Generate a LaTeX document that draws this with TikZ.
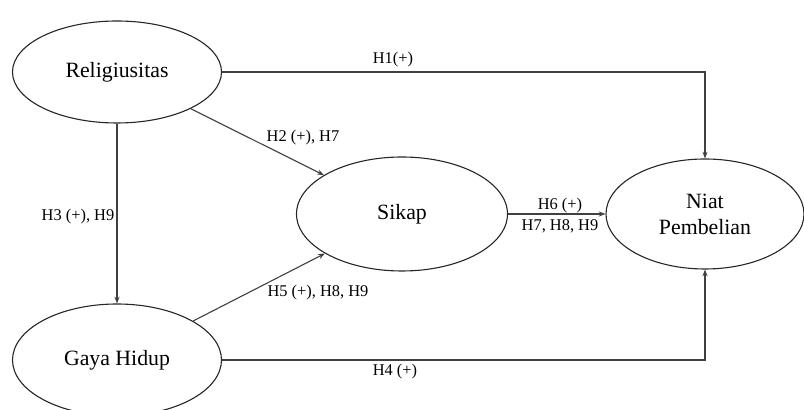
\documentclass[tikz,border=0pt]{standalone}
\usepackage{fontspec}
\setmainfont{Liberation Serif}
\usetikzlibrary{shapes.geometric,arrows.meta}
\begin{document}
\begin{tikzpicture}[x=0.5pt,y=-0.5pt,
  construct/.style={ellipse,draw=black!85,line width=0.55pt,inner sep=0pt,
    font=\fontsize{10.9}{13}\selectfont,align=center},
  conn/.style={draw=black!75,line width=0.55pt,-{Stealth[length=3.4pt,width=2.6pt]}},
  lbl/.style={font=\fontsize{8.2}{9.8}\selectfont,inner sep=0pt}]
\useasboundingbox (0,0) rectangle (804,410);
\node[construct,minimum width=104.5pt,minimum height=51pt] (rel) at (117,72) {Religiusitas};
\node[construct,minimum width=104.5pt,minimum height=56pt] (gaya) at (117,360) {Gaya Hidup};
\node[construct,minimum width=105.5pt,minimum height=57pt] (sikap) at (402,214) {Sikap};
\node[construct,minimum width=99pt,minimum height=55pt] (niat) at (705,214) {Niat\\Pembelian};
\draw[conn] (rel.east) -| (niat.north);
\draw[conn] (gaya.east) -| (niat.south);
\draw[conn] (rel.south) -- (gaya.north);
\draw[conn] (rel) -- (sikap);
\draw[conn] (gaya) -- (sikap);
\draw[conn] (sikap) -- (niat);
\node[lbl] (l1) at (393,60) {H1(+)};
\node[lbl] (l4) at (395,372) {H4 (+)};
\node[lbl] (l2) at (303,138) {H2 (+), H7};
\node[lbl] (l5) at (318,293) {H5 (+), H8, H9};
\node[lbl] (l3) at (78,217) {H3 (+), H9};
\node[lbl] (l6a) at (560,206) {H6 (+)};
\node[lbl] (l6b) at (560,226) {H7, H8, H9};
\end{tikzpicture}
\end{document}
